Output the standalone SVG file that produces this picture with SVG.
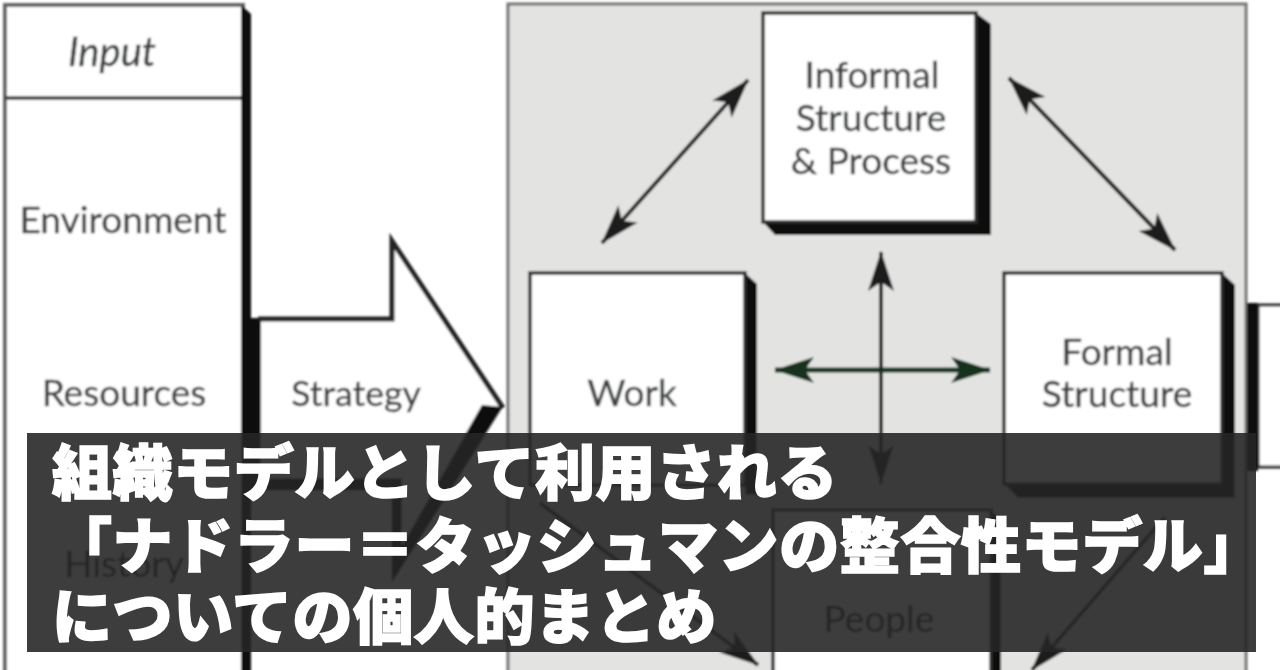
<svg xmlns="http://www.w3.org/2000/svg" width="1280" height="670" viewBox="0 0 1280 670">
<style>
.lbl{font-family:"Lato","Liberation Sans",sans-serif;font-size:37px;fill:#3d423e;text-anchor:middle;stroke:#3d423e;stroke-width:.4}
.ban{font-family:"Noto Sans CJK JP",sans-serif;font-size:60px;font-weight:900;fill:#fff;stroke:#fff;stroke-width:1.6;letter-spacing:.6px}
.box{fill:#fff;stroke:#2a2a2a;stroke-width:3.5}
.sh{fill:#111}
.ar{stroke:#1c1c1c;stroke-width:4;fill:none;marker-start:url(#h);marker-end:url(#h)}
</style>
<defs>
<marker id="h" viewBox="0 0 40 26" refX="39" refY="13" markerWidth="40" markerHeight="26" markerUnits="userSpaceOnUse" orient="auto-start-reverse"><path d="M0 0L40 13L0 26L9 13Z" fill="#1c1f1c"/></marker>
<marker id="g" viewBox="0 0 40 26" refX="39" refY="13" markerWidth="40" markerHeight="26" markerUnits="userSpaceOnUse" orient="auto-start-reverse"><path d="M0 0L40 13L0 26L9 13Z" fill="#16301f"/></marker>
<filter id="b" x="-2%" y="-2%" width="104%" height="104%"><feGaussianBlur stdDeviation="0.9"/></filter>
</defs>
<rect width="1280" height="670" fill="#fff"/>
<g filter="url(#b)">
<g id="panel"><rect x="508" y="4" width="738" height="680" fill="#e3e4e2" stroke="#6f716f" stroke-width="3"/></g>
<g id="left-column">
<rect x="5" y="5" width="238" height="680" fill="#fff" stroke="#666" stroke-width="4"/>
<line x1="5" y1="98" x2="243" y2="98" stroke="#333" stroke-width="3.5"/>
<path class="sh" d="M241 5L251 14V680H241Z"/>
<text class="lbl" x="112" y="66" font-style="italic" style="font-size:40px">Input</text>
<text class="lbl" x="123" y="233">Environment</text>
<text class="lbl" x="124" y="406">Resources</text>
<text class="lbl" x="124" y="577" style="fill:#111;stroke:#111">History</text>
</g>
<g id="strategy">
<path d="M258 318H392V240L503 408L392 580V484H258Z" fill="#fff"/>
<path d="M250 318H261V490H250Z" class="sh"/>
<path d="M258 319H392V241L503 408" fill="none" stroke="#222" stroke-width="5"/>
<path d="M503 407L392 582V490H250V478H402V545L482 405Z" class="sh"/>
<text class="lbl" x="356" y="406" style="font-size:35.5px">Strategy</text>
</g>
<g id="work">
<path class="sh" d="M745 273L757 284V495H745Z"/>
<rect class="box" x="530" y="273" width="215" height="212"/>
<text class="lbl" x="632" y="406">Work</text>
</g>
<g id="informal">
<path class="sh" d="M976 13L991 24V235H775L763 222H976Z"/>
<rect class="box" x="763" y="13" width="213" height="209"/>
<text class="lbl" x="872" y="88">Informal</text>
<text class="lbl" x="871" y="131">Structure</text>
<text class="lbl" x="871" y="174">&amp; Process</text>
</g>
<g id="formal">
<path class="sh" d="M1222 273L1235 285V498H1018L1004 484H1222Z"/>
<rect class="box" x="1004" y="273" width="218" height="211"/>
<text class="lbl" x="1117" y="365">Formal</text>
<text class="lbl" x="1117" y="407">Structure</text>
</g>
<g id="people">
<path class="sh" d="M991 510L1001 520V680H991Z"/>
<rect class="box" x="773" y="510" width="218" height="180"/>
<text class="lbl" x="879" y="632" style="fill:#111;stroke:#111">People</text>
</g>
<g id="output">
<rect x="1247" y="303" width="11" height="168" class="sh"/>
<rect x="1258" y="305" width="30" height="162" fill="#fff" stroke="#222" stroke-width="3"/>
</g>
<g id="connectors">
<line class="ar" x1="748" y1="80" x2="602" y2="243"/>
<line class="ar" x1="1009" y1="78" x2="1175" y2="250"/>
<line class="ar" x1="881" y1="252" x2="881" y2="484"/>
<line class="ar" x1="775" y1="370" x2="990" y2="370" style="stroke:#16301f;stroke-width:5;marker-start:url(#g);marker-end:url(#g)"/>
<line class="ar" x1="540" y1="503" x2="758" y2="665" style="marker-start:none"/>
<line class="ar" x1="1165" y1="517" x2="1032" y2="670" style="marker-start:none"/>
</g>
</g>
<g id="banner">
<rect x="27" y="433" width="1229" height="219" fill="#252525" fill-opacity=".89"/>
<text class="ban" x="52" y="495">組織モデルとして利用される</text>
<text class="ban" x="52" y="568">「ナドラー＝タッシュマンの整合性モデル」</text>
<text class="ban" x="52" y="639">についての個人的まとめ</text>
</g>
</svg>
